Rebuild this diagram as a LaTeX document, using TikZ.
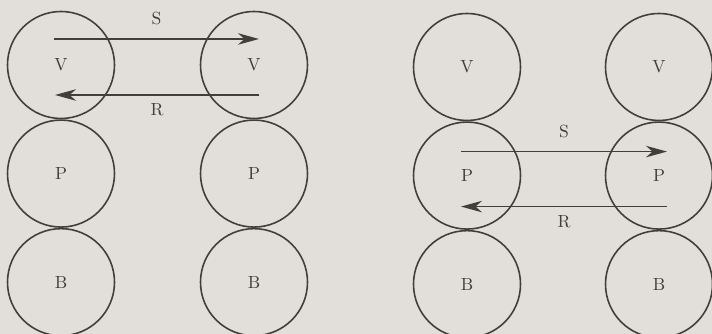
\documentclass[tikz,border=0pt]{standalone}
\usepackage{tikz}
\usetikzlibrary{arrows.meta, positioning}
\definecolor{PaperBg}{RGB}{226,223,218}
\definecolor{InkGray}{RGB}{66,62,58}

\begin{document}
\begin{tikzpicture}[>={Stealth[length=0.42cm, width=0.23cm, inset=0.13cm]},
    layer/.style={circle, draw=InkGray, line width=0.9pt, minimum size=2.14cm, inner sep=0pt, text=InkGray},
    msg/.style={->, draw=InkGray, line width=1pt},
    msglabel/.style={text=InkGray, inner sep=0pt}]
    % 0. Paper background and fixed frame
    \fill[PaperBg] (0,0) rectangle (14.24,6.68);
    \useasboundingbox (0,0) rectangle (14.24,6.68);

    % 1. Left pair of stacks (exchange between V layers)
    \node[layer] (aVl) at (1.22,5.38) {V};
    \node[layer, below=0pt of aVl] (aPl) {P};
    \node[layer, below=0pt of aPl] (aBl) {B};
    \node[layer] (aVr) at (5.08,5.38) {V};
    \node[layer, below=0pt of aVr] (aPr) {P};
    \node[layer, below=0pt of aPr] (aBr) {B};

    \draw[msg] ([shift={(-0.14,0.52)}]aVl.center) -- ([shift={(0.10,0.52)}]aVr.center)
        node[msglabel, midway, above=0.26cm] (aS) {S};
    \draw[msg] ([shift={(0.10,-0.60)}]aVr.center) -- ([shift={(-0.12,-0.60)}]aVl.center)
        node[msglabel, midway, below=0.16cm] (aR) {R};

    % 2. Right pair of stacks (exchange between P layers)
    \node[layer] (bVl) at (9.34,5.34) {V};
    \node[layer, below=0pt of bVl] (bPl) {P};
    \node[layer, below=0pt of bPl] (bBl) {B};
    \node[layer] (bVr) at (13.18,5.34) {V};
    \node[layer, below=0pt of bVr] (bPr) {P};
    \node[layer, below=0pt of bPr] (bBr) {B};

    \draw[msg] ([shift={(-0.12,0.48)}]bPl.center) -- ([shift={(0.16,0.48)}]bPr.center)
        node[msglabel, midway, above=0.26cm] (bS) {S};
    \draw[msg] ([shift={(0.16,-0.62)}]bPr.center) -- ([shift={(-0.12,-0.62)}]bPl.center)
        node[msglabel, midway, below=0.16cm] (bR) {R};
\end{tikzpicture}
\end{document}
